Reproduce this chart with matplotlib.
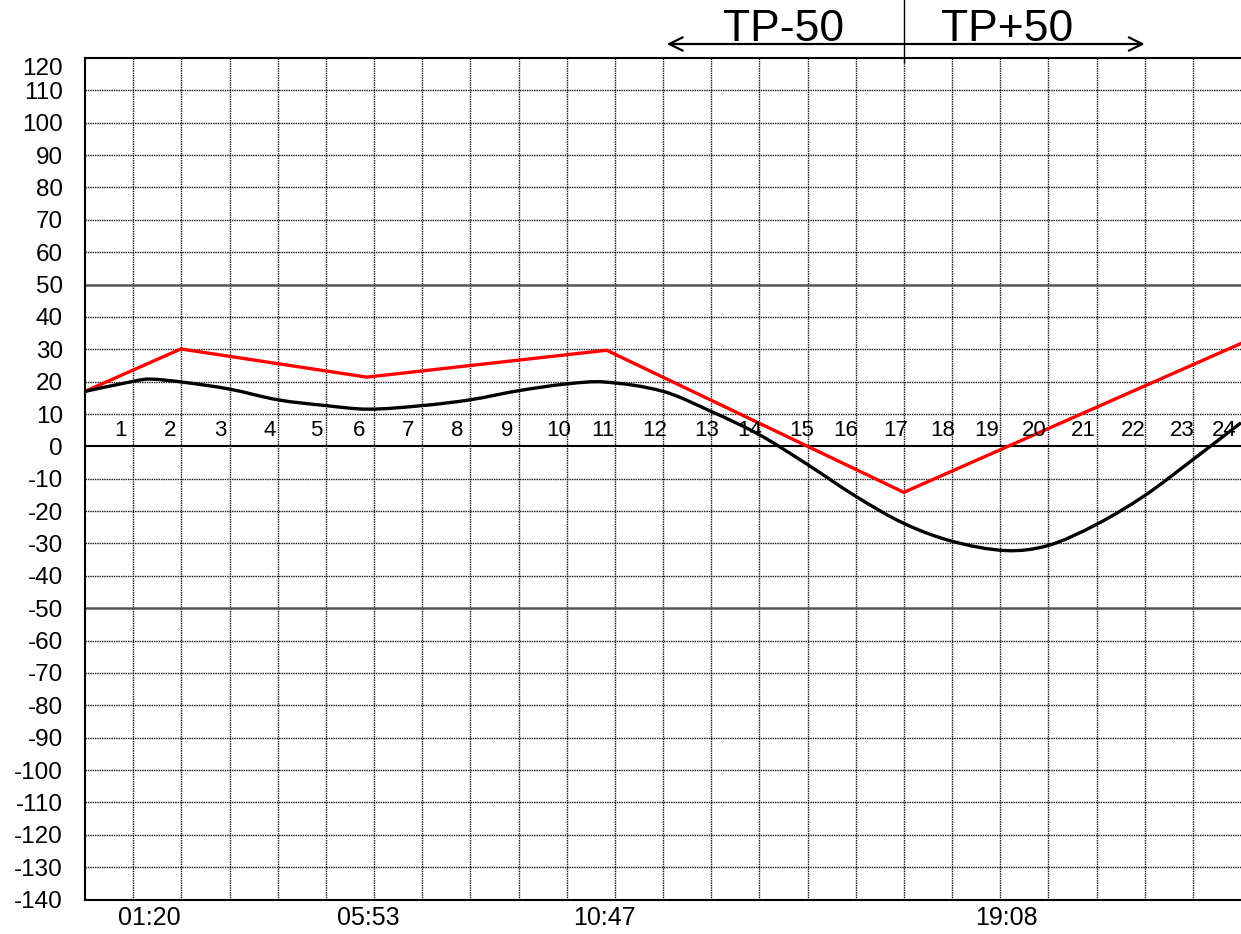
import matplotlib
matplotlib.use("Agg")
import matplotlib.pyplot as plt
import matplotlib.transforms as mtransforms
from matplotlib.path import Path
from matplotlib.patches import PathPatch
import numpy as np

plt.rcParams['font.family'] = ['Liberation Sans', 'DejaVu Sans']
plt.rcParams['axes.unicode_minus'] = False

# ---- data (hours of the day) ----
black_x = [0, 1, 1.33, 2, 3, 4, 5, 5.88, 7, 8, 9, 10, 10.78, 12, 13, 14, 15, 16, 17, 18, 19.13, 20, 21, 22, 23, 24]
black_y = [17.0, 20.1, 20.8, 19.9, 17.7, 14.4, 12.6, 11.5, 12.6, 14.4, 17.2, 19.3, 19.9, 17.0, 10.8, 3.6, -5.6, -15.4, -23.8, -29.3, -32.2, -30.6, -24.1, -15.2, -4.1, 7.3]

red_x = [0, 1.99, 5.85, 10.83, 17.0, 24]
red_y = [17.0, 30.1, 21.4, 29.7, -14.2, 31.8]

time_tick_pos = [1.333, 5.883, 10.783, 19.133]
time_tick_labels = ["01:20", "05:53", "10:47", "19:08"]

hour_labels = [str(h) for h in range(1, 25)]
y_ticks = list(range(-140, 121, 10))
header_left = "TP-50"
header_right = "TP+50"
tp_hour = 17

# layout: centre of each hour label, in hours
hour_label_centres = [0.73, 1.76, 2.80, 3.84, 4.80, 5.70, 6.71, 7.72, 8.76, 9.83, 10.76, 11.83,
                      12.90, 13.81, 14.88, 15.80, 16.84, 17.81, 18.72, 19.70, 20.72, 21.76, 22.78, 23.66]

# ---- figure ----
fig = plt.figure(figsize=(12.41, 9.34), dpi=100)
ax = fig.add_axes([85/1241, 1 - 899.5/934, 1 - 85/1241, (899.5 - 58)/934])
ax.set_xlim(0, 24)
ax.set_ylim(-140, 120)

dot = (0, (1, 0.7))
# grid
for h in range(1, 24):
    ax.axvline(h, color='#111111', lw=1.0, ls=dot, zorder=1)
for v in y_ticks:
    if v in (-140, 120):
        continue
    if v == 0:
        ax.axhline(v, color='black', lw=1.5, zorder=1.5)
    elif v in (50, -50):
        ax.axhline(v, color='#555555', lw=1.8, zorder=1.5)
    else:
        ax.axhline(v, color='#111111', lw=1.0, ls=dot, zorder=1)

ax.plot(red_x, red_y, color='#ff0000', lw=2.4, zorder=3, solid_joinstyle='miter')

# smooth (Catmull-Rom as Bezier) black curve through the read points
px = np.array(black_x, float)
py = np.array(black_y, float)
verts = [(px[0], py[0])]
codes = [Path.MOVETO]
n = len(px)
for i in range(n - 1):
    p0 = np.array([px[max(i - 1, 0)], py[max(i - 1, 0)]])
    p1 = np.array([px[i], py[i]])
    p2 = np.array([px[i + 1], py[i + 1]])
    p3 = np.array([px[min(i + 2, n - 1)], py[min(i + 2, n - 1)]])
    c1 = p1 + (p2 - p0) / 6.0 * ((p2[0] - p1[0]) / max(p2[0] - p0[0], 1e-9) * 2 if i > 0 else 1)
    c2 = p2 - (p3 - p1) / 6.0 * ((p2[0] - p1[0]) / max(p3[0] - p1[0], 1e-9) * 2 if i < n - 2 else 1)
    verts += [tuple(c1), tuple(c2), tuple(p2)]
    codes += [Path.CURVE4] * 3
ax.add_patch(PathPatch(Path(verts, codes), fill=False, edgecolor='black', lw=2.4, zorder=4))

# hour labels inside plot
for xc, lab in zip(hour_label_centres, hour_labels):
    ax.text(xc, 3.3, lab, ha='center', va='baseline', fontsize=16, zorder=5)

# spines
for s in ['left', 'top', 'bottom']:
    ax.spines[s].set_linewidth(1.5)
    ax.spines[s].set_color('black')
ax.spines['right'].set_visible(False)

# ticks
ax.set_yticks(y_ticks)
ax.set_yticklabels([str(v) for v in y_ticks], fontsize=17.5)
ax.tick_params(axis='y', length=0, pad=16)
ax.set_xticks(time_tick_pos)
ax.set_xticklabels(time_tick_labels, fontsize=18)
ax.tick_params(axis='x', length=0, pad=5)
for t in ax.get_yticklabels():
    if t.get_text() == "120":
        t.set_va('top')

# header
trans = mtransforms.blended_transform_factory(ax.transData, fig.transFigure)
ax.annotate('', xy=(12.08, 1 - 44/934), xytext=(22.0, 1 - 44/934), xycoords=trans, textcoords=trans,
            arrowprops=dict(arrowstyle='<->', lw=1.6, color='black', mutation_scale=24,
                            shrinkA=0, shrinkB=0), annotation_clip=False)
ax.plot([tp_hour, tp_hour], [1.0, 1 - 62/934], transform=trans, color='black', lw=1.0, clip_on=False)
ax.text(14.51, 1 - 41/934, header_left, transform=trans, ha='center', va='baseline', fontsize=32)
ax.text(19.14, 1 - 41/934, header_right, transform=trans, ha='center', va='baseline', fontsize=32)

fig.savefig('out.png', dpi=100)
